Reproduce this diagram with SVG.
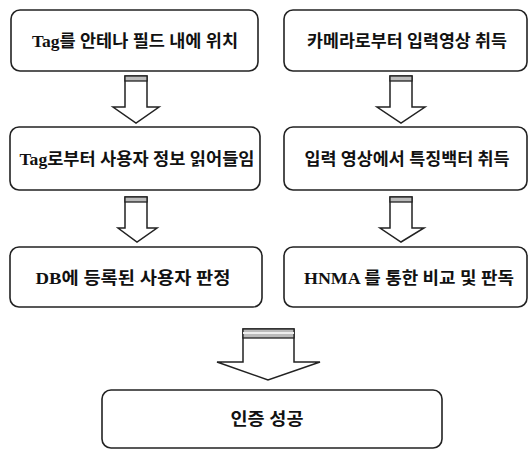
<svg xmlns="http://www.w3.org/2000/svg" width="532" height="456" viewBox="0 0 532 456">
<style>
.box{fill:#fff;stroke:#222;stroke-width:1.6}
.arr{fill:#fff;stroke:#222;stroke-width:1.5;stroke-linejoin:miter}
.band{fill:#bbb;stroke:#222;stroke-width:1.3}
text{font-family:"Liberation Serif","Noto Sans CJK KR",serif;font-size:17px;font-weight:bold;fill:#111;text-anchor:middle}
</style>
<rect width="532" height="456" fill="#fff"/>
<g id="connectors">
<g id="arrow-l1"><polygon class="arr" points="125,76 147,76 147,107 159,107 136,123 113,107 125,107"/><rect class="band" x="125" y="76" width="22" height="5"/></g>
<g id="arrow-l2"><polygon class="arr" points="125,197 147,197 147,228 157,228 137,242 118,228 125,228"/><rect class="band" x="125" y="197" width="22" height="5"/></g>
<g id="arrow-r1"><polygon class="arr" points="390,76 412,76 412,107 425,107 401,123 377,107 390,107"/><rect class="band" x="390" y="76" width="22" height="5"/></g>
<g id="arrow-r2"><polygon class="arr" points="390,197 412,197 412,228 424,228 401,242 380,228 390,228"/><rect class="band" x="390" y="197" width="22" height="5"/></g>
<g id="arrow-b"><polygon class="arr" points="243,329 294,329 294,362 320,362 268,380 217,362 243,362"/><rect class="band" x="243" y="329" width="51" height="9"/><line x1="243" y1="333" x2="294" y2="333" stroke="#eee" stroke-width="2"/></g>
</g>
<g id="n1"><rect class="box" x="11" y="10" width="247" height="61" rx="9"/><text x="135" y="47" textLength="206" lengthAdjust="spacingAndGlyphs">Tag를 안테나 필드 내에 위치</text></g>
<g id="n2"><rect class="box" x="10" y="127" width="250" height="63" rx="9"/><text x="137" y="165" textLength="235" lengthAdjust="spacingAndGlyphs">Tag로부터 사용자 정보 읽어들임</text></g>
<g id="n3"><rect class="box" x="10" y="247" width="252" height="60" rx="9"/><text x="133" y="284" textLength="195" lengthAdjust="spacingAndGlyphs">DB에 등록된 사용자 판정</text></g>
<g id="n4"><rect class="box" x="284" y="10" width="243" height="61" rx="9"/><text x="407" y="47" textLength="200" lengthAdjust="spacingAndGlyphs">카메라로부터 입력영상 취득</text></g>
<g id="n5"><rect class="box" x="284" y="127" width="243" height="63" rx="9"/><text x="407" y="165" textLength="205" lengthAdjust="spacingAndGlyphs">입력 영상에서 특징백터 취득</text></g>
<g id="n6"><rect class="box" x="284" y="247" width="243" height="60" rx="9"/><text x="409" y="284" textLength="210" lengthAdjust="spacingAndGlyphs">HNMA 를 통한 비교 및 판독</text></g>
<g id="n7"><rect class="box" x="102" y="390" width="340" height="58" rx="9"/><text x="267" y="425" textLength="73" lengthAdjust="spacingAndGlyphs">인증 성공</text></g>
</svg>
